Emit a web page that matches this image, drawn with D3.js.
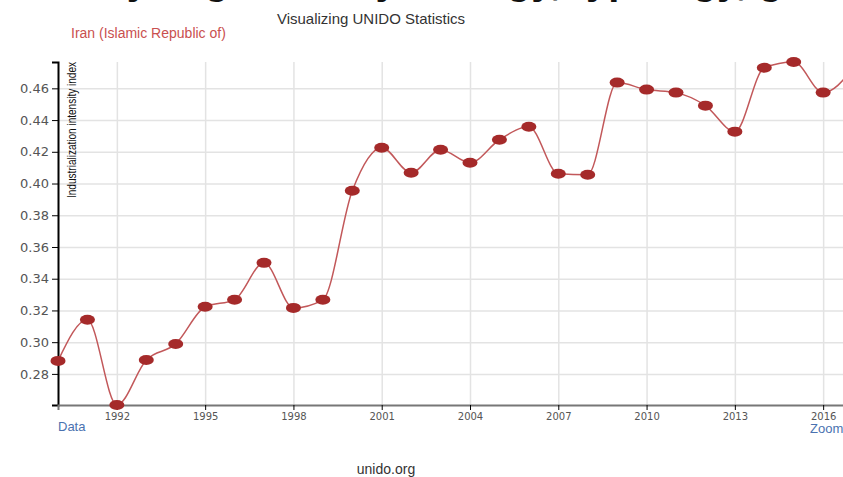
<!DOCTYPE html>
<html>
<head>
<meta charset="utf-8">
<script src="https://cdn.jsdelivr.net/npm/d3@7/dist/d3.min.js"></script>
<style>
  body { margin: 0; background: #fff; overflow: hidden; }
  svg { display: block; font-family: "Liberation Sans", Arial, sans-serif; }
  .grid line { stroke: #e3e3e3; stroke-width: 1.5; }
  .grid path { display: none; }
  .y.axis text { font-family: "DejaVu Sans", sans-serif; font-size: 13px; fill: #555; }
  .x.axis text { font-family: "DejaVu Sans", sans-serif; font-size: 10px; fill: #555; }
</style>
</head>
<body>
<div id="chart"></div>
<script>
// Industrialization intensity index, Iran (Islamic Republic of)
var years = [1990, 1991, 1992, 1993, 1994, 1995, 1996, 1997, 1998, 1999,
             2000, 2001, 2002, 2003, 2004, 2005, 2006, 2007, 2008, 2009,
             2010, 2011, 2012, 2013, 2014, 2015, 2016, 2017];
var values = [0.2882, 0.3141, 0.2604, 0.2888, 0.2989, 0.3223, 0.3267, 0.3500, 0.3216, 0.3267,
              0.3955, 0.4226, 0.4068, 0.4213, 0.4131, 0.4276, 0.4358, 0.4062, 0.4055, 0.4636,
              0.4592, 0.4573, 0.4491, 0.4327, 0.4730, 0.4766, 0.4573, 0.4720];
var yTicks = [0.28, 0.30, 0.32, 0.34, 0.36, 0.38, 0.40, 0.42, 0.44, 0.46];
var xTicks = [1992, 1995, 1998, 2001, 2004, 2007, 2010, 2013, 2016];

var data = years.map(function(y, i) { return {year: y, value: values[i]}; });

var svg = d3.select("#chart").append("svg")
  .attr("width", 843)
  .attr("height", 477);

var margin = {top: 62, left: 58};
var width = 824;   // plot runs past the right edge of the window
var height = 343;

// page heading, mostly cut off above the view
svg.append("text")
  .attr("x", 40)
  .attr("y", -6)
  .attr("font-size", "40px")
  .attr("font-weight", "bold")
  .attr("fill", "#111")
  .text("Analyzing industry: energy, typology, growth by year");

svg.append("text")
  .attr("x", 371)
  .attr("y", 24)
  .attr("text-anchor", "middle")
  .attr("font-size", "15px")
  .attr("fill", "#333")
  .text("Visualizing UNIDO Statistics");

svg.append("text")
  .attr("x", 71)
  .attr("y", 38)
  .attr("font-size", "14px")
  .attr("fill", "#c9504f")
  .text("Iran (Islamic Republic of)");

var chart = svg.append("g")
  .attr("transform", "translate(" + margin.left + "," + margin.top + ")");

var xScale = d3.scaleLinear()
  .domain([1990, 2018])
  .range([0, width]);

var yScale = d3.scaleLinear()
  .domain(d3.extent(values))
  .range([height, 0]);

// grid lines
chart.append("g")
  .classed("grid", true)
  .attr("transform", "translate(0," + height + ")")
  .call(d3.axisBottom(xScale).tickValues(xTicks).tickSize(-height).tickFormat(""));

chart.append("g")
  .classed("grid", true)
  .call(d3.axisLeft(yScale).tickValues(yTicks).tickSize(-width).tickFormat(""));

// axes
var yAxis = chart.append("g")
  .classed("y axis", true)
  .call(d3.axisLeft(yScale).tickValues(yTicks).tickFormat(d3.format(".2f")).tickSizeOuter(6));
yAxis.select(".domain").attr("stroke", "#000").attr("stroke-width", 2);
yAxis.selectAll(".tick line").attr("stroke", "#000");

var xAxis = chart.append("g")
  .classed("x axis", true)
  .attr("transform", "translate(0," + height + ")")
  .call(d3.axisBottom(xScale).tickValues(xTicks).tickFormat(d3.format("d")).tickSizeOuter(0).tickSize(5));
xAxis.select(".domain").attr("stroke", "#777").attr("stroke-width", 2);
xAxis.selectAll(".tick line").attr("stroke", "#000");

chart.append("text")
  .attr("transform", "translate(18,0) rotate(-90)")
  .attr("text-anchor", "end")
  .attr("font-size", "12px")
  .attr("fill", "#111")
  .attr("textLength", 136)
  .attr("lengthAdjust", "spacingAndGlyphs")
  .text("Industrialization intensity index");

// line and markers
var line = d3.line()
  .x(function(d) { return xScale(d.year); })
  .y(function(d) { return yScale(d.value); })
  .curve(d3.curveMonotoneX);

chart.append("path")
  .datum(data)
  .attr("fill", "none")
  .attr("stroke", "#c2585a")
  .attr("stroke-width", 1.5)
  .attr("d", line);

chart.selectAll("ellipse.dot")
  .data(data)
  .enter()
  .append("ellipse")
  .classed("dot", true)
  .attr("cx", function(d) { return xScale(d.year); })
  .attr("cy", function(d) { return yScale(d.value); })
  .attr("rx", 7.5)
  .attr("ry", 5)
  .attr("fill", "#a52a2a");

svg.append("text")
  .attr("x", 58)
  .attr("y", 431)
  .attr("font-size", "13px")
  .attr("fill", "#4a72b0")
  .text("Data");

svg.append("text")
  .attr("x", 810)
  .attr("y", 433)
  .attr("font-size", "13px")
  .attr("fill", "#4a72b0")
  .text("Zoom");

svg.append("text")
  .attr("x", 386)
  .attr("y", 474)
  .attr("text-anchor", "middle")
  .attr("font-size", "14px")
  .attr("fill", "#333")
  .text("unido.org");
</script>
</body>
</html>
